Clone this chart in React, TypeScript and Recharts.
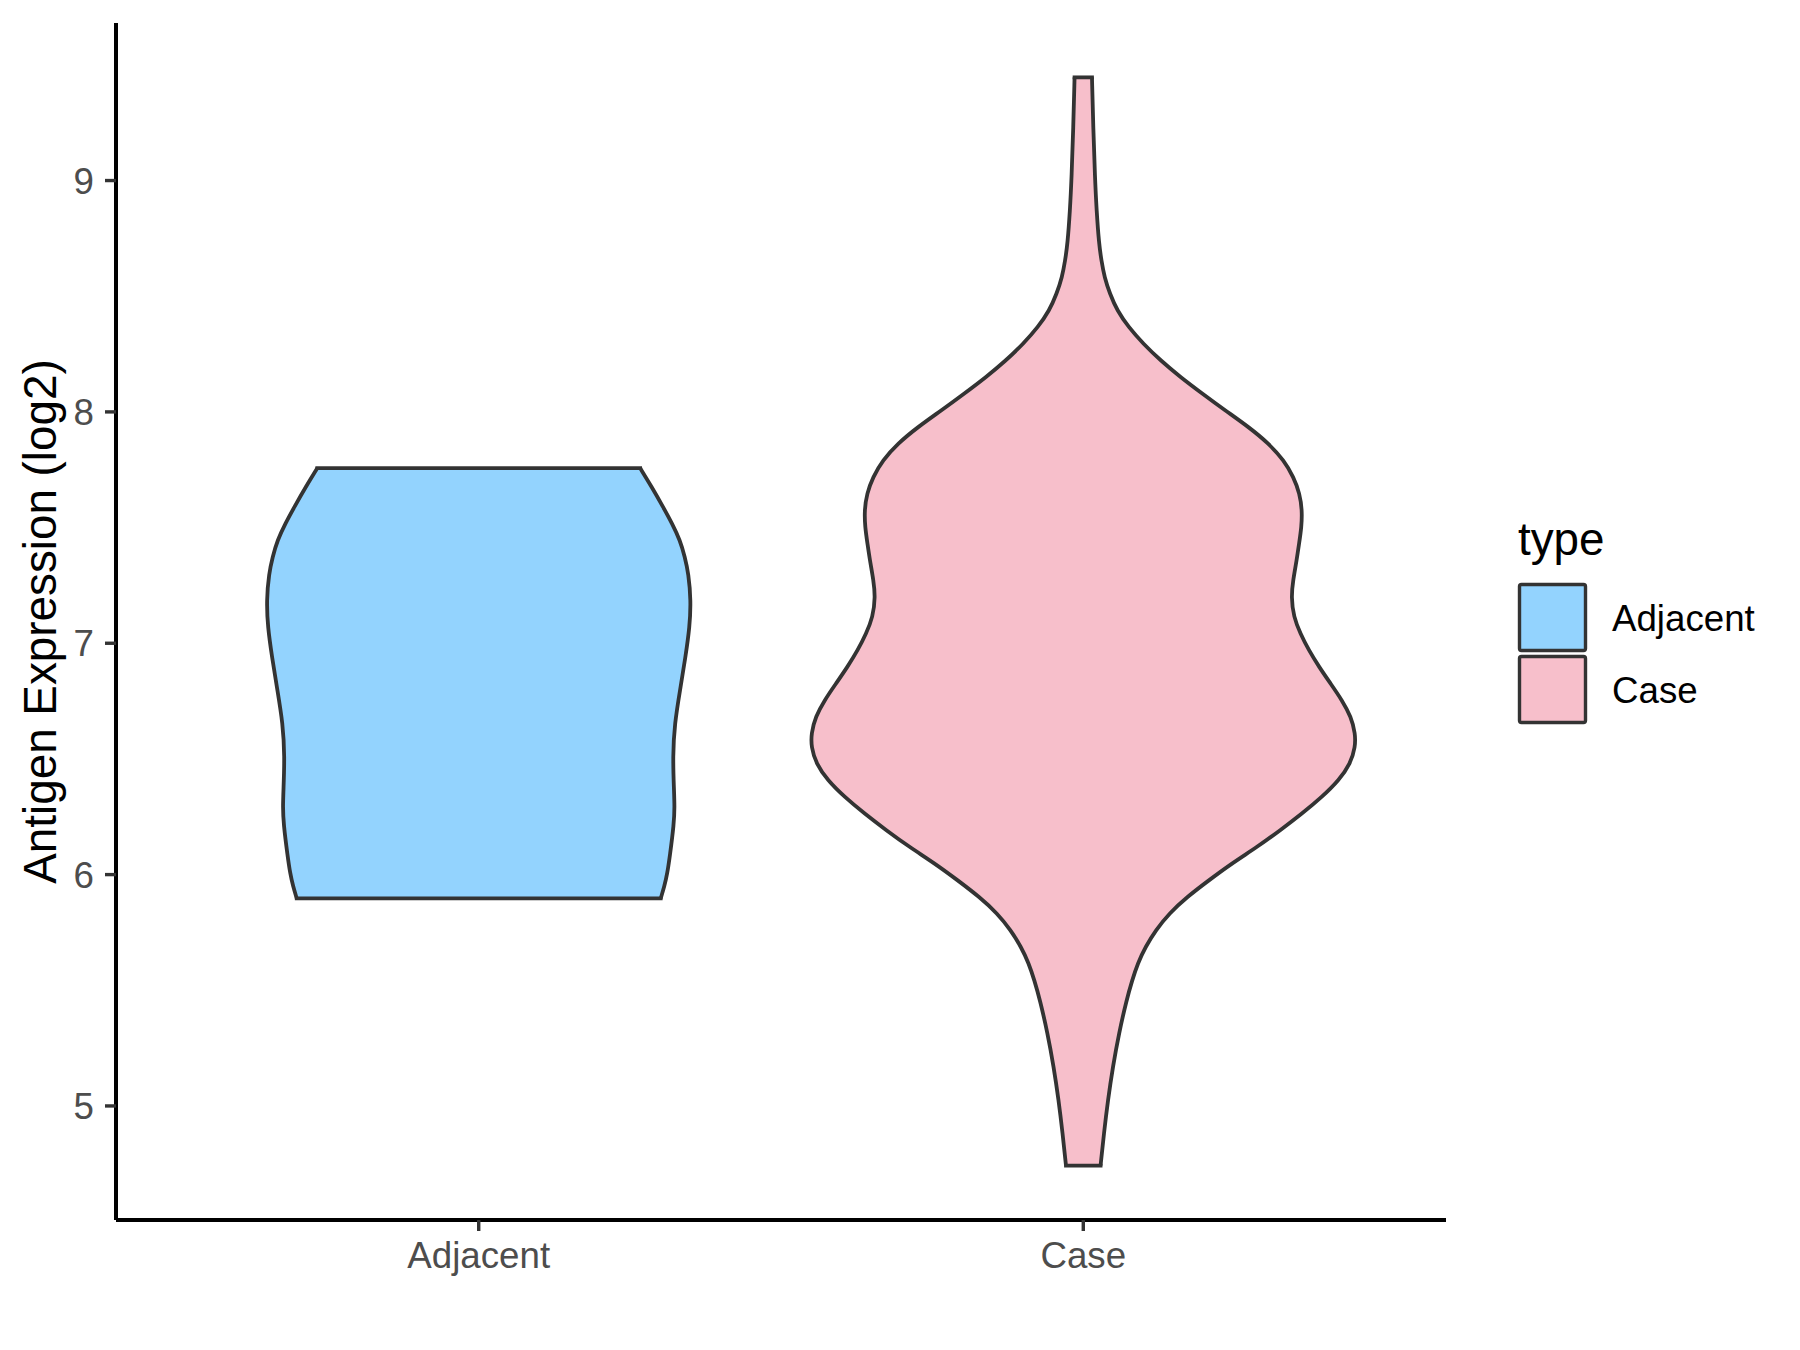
import { ComposedChart, Area, XAxis, YAxis, ReferenceLine } from "recharts";

// violin groups and their fills
const categories = ["Adjacent", "Case"];
const fills = ["#93D3FE", "#F7BFCB"];
const yTicks = [5, 6, 7, 8, 9];

// outline: expression value (top to bottom) and half width in category units
const adjacentY = [
  7.757, 7.676, 7.589, 7.517, 7.445, 7.373, 7.301, 7.186, 7.07, 6.941, 6.797, 6.653, 6.509, 6.365,
  6.293, 6.221, 6.077, 6.006, 5.948, 5.897,
];
const adjacentHalfWidth = [
  0.267, 0.286, 0.305, 0.32, 0.333, 0.341, 0.347, 0.351, 0.349, 0.342, 0.333, 0.324, 0.321, 0.323,
  0.324, 0.323, 0.316, 0.312, 0.307, 0.301,
];

const caseY = [
  9.446, 9.23, 9.014, 8.87, 8.727, 8.654, 8.582, 8.511, 8.438, 8.366, 8.295, 8.222, 8.15, 8.079,
  8.006, 7.934, 7.863, 7.79, 7.718, 7.647, 7.575, 7.502, 7.431, 7.359, 7.272, 7.2, 7.114, 7.042,
  6.97, 6.898, 6.826, 6.754, 6.682, 6.61, 6.552, 6.48, 6.408, 6.336, 6.264, 6.192, 6.12, 6.049,
  5.976, 5.904, 5.832, 5.76, 5.688, 5.616, 5.544, 5.458, 5.314, 5.17, 5.026, 4.882, 4.742,
];
const caseHalfWidth = [
  0.0144, 0.0165, 0.0193, 0.022, 0.026, 0.03, 0.035, 0.044, 0.056, 0.075, 0.099, 0.128, 0.161, 0.197,
  0.235, 0.274, 0.307, 0.332, 0.348, 0.358, 0.362, 0.361, 0.357, 0.353, 0.347, 0.344, 0.348, 0.359,
  0.373, 0.39, 0.409, 0.428, 0.443, 0.45, 0.45, 0.442, 0.423, 0.395, 0.362, 0.326, 0.288, 0.246,
  0.208, 0.172, 0.142, 0.12, 0.103, 0.09, 0.081, 0.0716, 0.059, 0.049, 0.0408, 0.0342, 0.0286,
];

const FONT = '"Liberation Sans", Arial, Helvetica, sans-serif';
const OUTLINE = "#333333";

function violinRows(pos: number, ys: number[], half: number[]) {
  return ys.map((y, i) => ({ y, band: [pos - half[i], pos + half[i]] }));
}

const violins = [
  { name: categories[0], fill: fills[0], rows: violinRows(1, adjacentY, adjacentHalfWidth) },
  { name: categories[1], fill: fills[1], rows: violinRows(2, caseY, caseHalfWidth) },
];

const renderTitle = () => (
  <text
    x={56}
    y={621.5}
    transform="rotate(-90, 56, 621.5)"
    textAnchor="middle"
    fontSize={45.8}
    fontFamily={FONT}
    fill="#000000"
  >
    Antigen Expression (log2)
  </text>
);

export default function App() {
  const tickStyle = { fill: "#4D4D4D", fontSize: 36.7, fontFamily: FONT };

  return (
    <div style={{ position: "absolute", left: 0, top: 0, width: 1800, height: 1350, background: "#fff" }}>
      <ComposedChart
        width={1800}
        height={1350}
        layout="vertical"
        margin={{ top: 23, right: 354, bottom: 0, left: 0 }}
      >
        <XAxis
          type="number"
          domain={[0.4, 2.6]}
          ticks={[1, 2]}
          interval={0}
          allowDataOverflow
          tickFormatter={(v) => categories[v - 1]}
          height={130}
          axisLine={{ stroke: "#000", strokeWidth: 4 }}
          tickLine={{ stroke: OUTLINE, strokeWidth: 3.4 }}
          tickSize={11}
          tickMargin={11}
          tick={tickStyle}
        />
        <YAxis
          type="number"
          dataKey="y"
          domain={[4.507, 9.681]}
          reversed
          ticks={yTicks}
          interval={0}
          allowDataOverflow
          width={116}
          axisLine={{ stroke: "#000", strokeWidth: 4 }}
          tickLine={{ stroke: OUTLINE, strokeWidth: 3.4 }}
          tickSize={11}
          tickMargin={11}
          tick={tickStyle}
          label={renderTitle}
        />
        {violins.map((v) => (
          <Area
            key={v.name}
            data={v.rows}
            dataKey="band"
            type="basis"
            fill={v.fill}
            fillOpacity={1}
            stroke={OUTLINE}
            strokeWidth={3.8}
            dot={false}
            activeDot={false}
            isAnimationActive={false}
          />
        ))}
        {violins.map((v) => {
          const first = v.rows[0];
          const last = v.rows[v.rows.length - 1];
          return [first, last].map((r, k) => (
            <ReferenceLine
              key={`${v.name}-cap-${k}`}
              segment={[
                { x: r.band[0], y: r.y },
                { x: r.band[1], y: r.y },
              ]}
              stroke={OUTLINE}
              strokeWidth={3.8}
              strokeLinecap="square"
              ifOverflow="visible"
            />
          ));
        })}
      </ComposedChart>

      <svg
        width={1800}
        height={1350}
        style={{ position: "absolute", left: 0, top: 0, pointerEvents: "none" }}
      >
        <text x={1518} y={555} fontSize={45.8} fontFamily={FONT} fill="#000">
          type
        </text>
        {categories.map((c, i) => (
          <g key={c}>
            <rect
              x={1519.5}
              y={584.5 + i * 72}
              width={66}
              height={66}
              rx={2}
              fill={fills[i]}
              stroke={OUTLINE}
              strokeWidth={3.4}
            />
            <text x={1612} y={630.5 + i * 72} fontSize={36.7} fontFamily={FONT} fill="#000">
              {c}
            </text>
          </g>
        ))}
      </svg>
    </div>
  );
}
